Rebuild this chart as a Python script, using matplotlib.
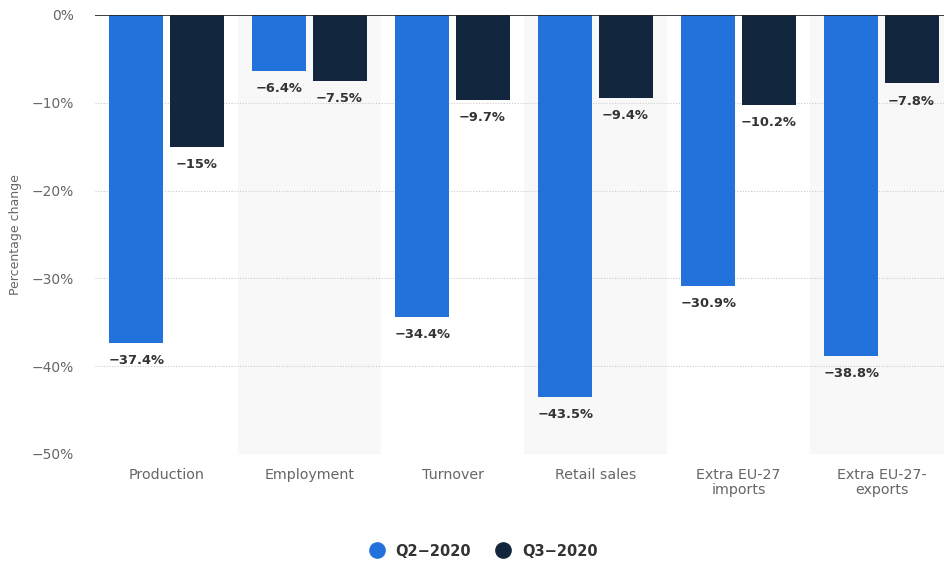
import matplotlib
import matplotlib.pyplot as plt
import numpy as np

matplotlib.use('Agg')

categories = ['Production', 'Employment', 'Turnover', 'Retail sales',
              'Extra EU-27\nimports', 'Extra EU-27-\nexports']
q2_2020 = [-37.4, -6.4, -34.4, -43.5, -30.9, -38.8]
q3_2020 = [-15, -7.5, -9.7, -9.4, -10.2, -7.8]
series_names = ['Q2\u22122020', 'Q3\u22122020']
y_ticks = [0, -10, -20, -30, -40, -50]

blue = '#2372dc'
navy = '#12263d'


def fmt(v):
    s = f'{abs(v):g}%'
    return ('\u2212' + s) if v < 0 else s


fig = plt.figure(figsize=(9.44, 5.62), dpi=100)
ax = fig.add_axes([95 / 944, 108 / 562, 858 / 944, 439 / 562])

x = np.arange(len(categories))
width = 0.378
offset = 0.21

# light shading behind every second group
for i in range(1, len(categories), 2):
    ax.axvspan(i - 0.5, i + 0.5, color='#f8f8f8', zorder=0, lw=0)

b1 = ax.bar(x - offset, q2_2020, width, color=blue, zorder=2)
b2 = ax.bar(x + offset, q3_2020, width, color=navy, zorder=2)

for bars, vals in ((b1, q2_2020), (b2, q3_2020)):
    for bar, v in zip(bars, vals):
        ax.annotate(fmt(v), (bar.get_x() + bar.get_width() / 2, v),
                    xytext=(0, -8), textcoords='offset points',
                    ha='center', va='top', fontsize=9.4,
                    fontweight='bold', color='#333333')

ax.set_xlim(-0.5, len(categories) - 0.5)
ax.set_ylim(-50, 0)
ax.set_yticks(y_ticks)
ax.set_yticklabels([fmt(t) for t in y_ticks])
ax.set_xticks(x)
ax.set_xticklabels(categories, linespacing=1.1)
ax.tick_params(axis='both', length=0, colors='#666666')
ax.tick_params(axis='y', pad=15, labelsize=10)
ax.tick_params(axis='x', pad=10, labelsize=10.3)

ax.grid(axis='y', linestyle=(0, (1, 1.5)), color='#cccccc', lw=0.8, zorder=1)
ax.axhline(0, color='#222222', lw=1.2, zorder=3)
for s in ax.spines.values():
    s.set_visible(False)

ax.set_ylabel('Percentage change', fontsize=9, color='#666666', labelpad=7)

handles = [plt.Line2D([], [], marker='o', ls='', color=c, markersize=11)
           for c in (blue, navy)]
fig.legend(handles, series_names, loc='center', bbox_to_anchor=(480 / 944, 1 - 551 / 562),
           ncol=2, frameon=False, handletextpad=0.3, columnspacing=1.2,
           prop={'size': 10.5, 'weight': 'bold'}, labelcolor='#333333')

fig.savefig('out.png', dpi=100)
